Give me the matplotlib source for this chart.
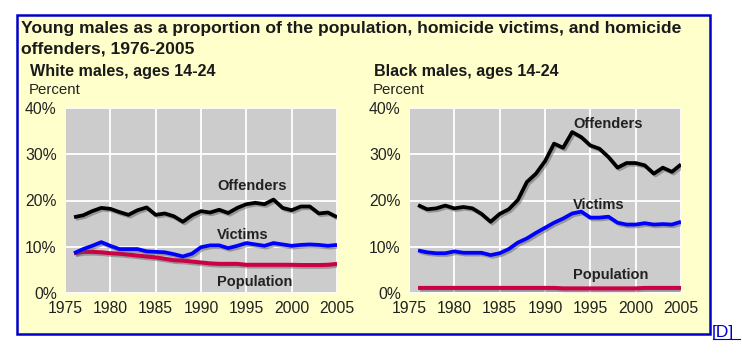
import numpy as np
import matplotlib
matplotlib.use('Agg')
from matplotlib import pyplot as plt
from matplotlib import patheffects as pe
from matplotlib.patches import Rectangle

# data (percent)
years = list(range(1976, 2006))

white_offenders = [16.4, 16.8, 17.7, 18.4, 18.2, 17.5, 16.9, 17.9, 18.5, 16.9,
                   17.2, 16.6, 15.4, 16.8, 17.7, 17.4, 18.0, 17.3, 18.4, 19.2,
                   19.5, 19.2, 20.2, 18.4, 17.9, 18.7, 18.7, 17.2, 17.4, 16.4]
white_victims = [8.6, 9.5, 10.2, 11.0, 10.2, 9.5, 9.5, 9.5, 9.0, 8.9,
                 8.8, 8.4, 7.9, 8.5, 9.9, 10.3, 10.3, 9.7, 10.2, 10.8,
                 10.5, 10.2, 10.8, 10.5, 10.2, 10.4, 10.5, 10.4, 10.2, 10.4]
white_population = [8.6, 8.9, 8.9, 8.8, 8.6, 8.5, 8.3, 8.1, 7.9, 7.7,
                    7.4, 7.1, 7.0, 6.8, 6.6, 6.4, 6.3, 6.3, 6.3, 6.1,
                    6.1, 6.1, 6.1, 6.1, 6.1, 6.05, 6.05, 6.05, 6.1, 6.3]

black_offenders = [19.0, 18.1, 18.3, 18.9, 18.3, 18.6, 18.3, 17.1, 15.4, 17.1,
                   18.1, 20.1, 24.0, 25.8, 28.5, 32.3, 31.4, 34.8, 33.7, 31.9,
                   31.2, 29.4, 27.1, 28.1, 28.1, 27.6, 25.8, 27.1, 26.2, 27.8]
black_victims = [9.2, 8.8, 8.6, 8.6, 9.0, 8.7, 8.7, 8.7, 8.2, 8.6,
                 9.5, 10.9, 11.8, 13.0, 14.1, 15.2, 16.1, 17.2, 17.6, 16.3,
                 16.3, 16.5, 15.2, 14.8, 14.8, 15.1, 14.8, 14.9, 14.8, 15.4]
black_population = [1.1, 1.1, 1.1, 1.1, 1.1, 1.1, 1.1, 1.1, 1.1, 1.1,
                    1.1, 1.1, 1.1, 1.1, 1.1, 1.1, 1.0, 1.0, 1.0, 1.0,
                    1.0, 1.0, 1.0, 1.0, 1.0, 1.1, 1.1, 1.1, 1.1, 1.1]

xticks = [1975, 1980, 1985, 1990, 1995, 2000, 2005]
yticks = [0, 10, 20, 30, 40]

plt.rcParams['font.family'] = ['Liberation Sans', 'DejaVu Sans']

fig = plt.figure(figsize=(7.42, 3.55), dpi=100)
W, H = 742.0, 355.0

# yellow panel with blue border, behind everything
bg = fig.add_axes([0, 0, 1, 1], zorder=-5)
bg.set_axis_off()
bg.set_xlim(0, W)
bg.set_ylim(H, 0)
bg.add_patch(Rectangle((17, 15), 693, 319, facecolor='#ffffcc',
                       edgecolor='#0000cc', linewidth=1.8))
bg.plot([713, 740], [339, 339], color='#0000cc', lw=0.8)
bg.text(712, 337, '[D]', fontsize=12.5, color='#0000cc', va='baseline')

bg.text(21, 33, 'Young males as a proportion of the population, homicide victims, and homicide',
        fontsize=12.6, fontweight='bold', color='#1a1a1a', va='baseline')
bg.text(21, 53, 'offenders, 1976-2005',
        fontsize=12.6, fontweight='bold', color='#1a1a1a', va='baseline')

shadow = [pe.SimpleLineShadow(offset=(1.3, -1.3), shadow_color='#555555', alpha=0.45), pe.Normal()]


def panel(left, subtitle, off, vic, pop, labx, laby):
    ax = fig.add_axes([left / W, 1 - 293 / H, 272 / W, 185 / H])
    ax.set_facecolor('#cccccc')
    for s in ax.spines.values():
        s.set_visible(False)
    ax.set_xlim(1975, 2005)
    ax.set_ylim(0, 40)
    ax.set_xticks(xticks)
    ax.set_yticks(yticks)
    ax.set_yticklabels([f'{v}%' for v in yticks])
    ax.tick_params(length=0, labelsize=11.3, colors='#222222', pad=6)
    ax.grid(True, color='white', linewidth=1.3)
    ax.set_axisbelow(True)
    ax.plot(years, pop, color='#cc0044', lw=2.9, path_effects=shadow, solid_capstyle='butt')
    ax.plot(years, vic, color='#0000ff', lw=2.7, path_effects=shadow, solid_capstyle='butt')
    ax.plot(years, off, color='#000000', lw=2.7, path_effects=shadow, solid_capstyle='butt')
    for name, yv in zip(['Offenders', 'Victims', 'Population'], laby):
        ax.text(labx, yv, name, fontsize=10.5, fontweight='bold', color='#222222', va='center', ha='left')
    bg.text(left - 35, 76, subtitle, fontsize=11.6, fontweight='bold',
            color='#1a1a1a', va='baseline')
    bg.text(left - 36, 94, 'Percent', fontsize=10.8, color='#222222', va='baseline')
    return ax


panel(65, 'White males, ages 14-24', white_offenders, white_victims, white_population,
      1991.8, [23.1, 12.6, 2.3])
panel(409, 'Black males, ages 14-24', black_offenders, black_victims, black_population,
      1993.1, [36.6, 19.1, 3.9])

fig.savefig('out.png', dpi=100, facecolor='white')
